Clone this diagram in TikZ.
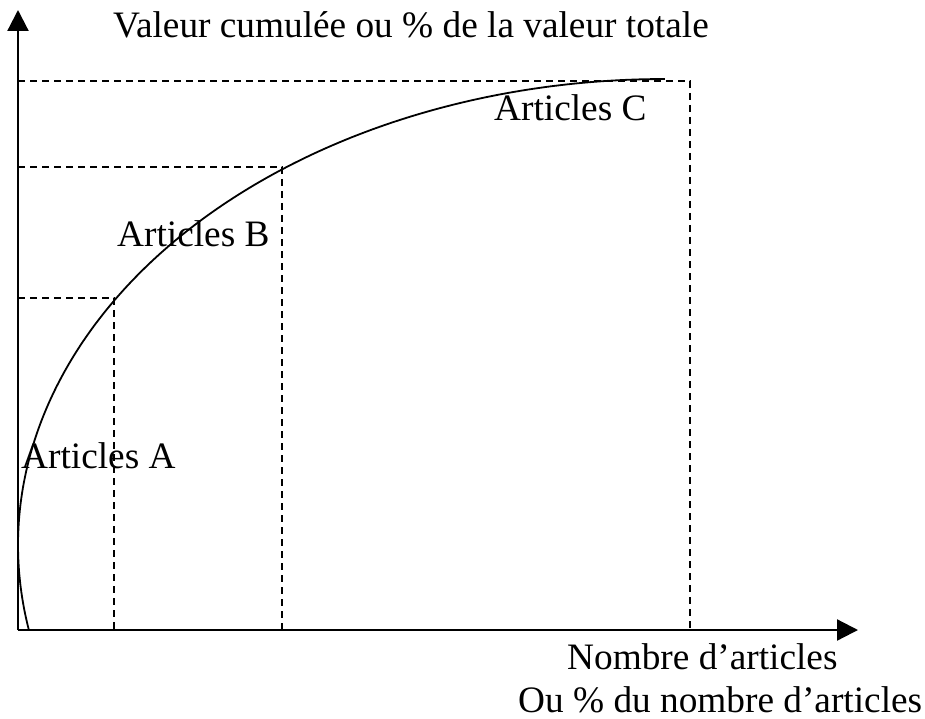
\documentclass[tikz,border=0pt]{standalone}
\usepackage{fontspec}
\setmainfont{Liberation Serif}
\usetikzlibrary{arrows.meta}
\begin{document}
\begin{tikzpicture}[x=1pt,y=-1pt,
  axis/.style={line width=2.2pt,-{Triangle[length=21pt,width=21pt]}},
  guide/.style={line width=1.7pt,dash pattern=on 7pt off 5pt},
  curve/.style={line width=1.8pt},
  lbl/.style={anchor=base west,inner sep=0pt,font=\fontsize{37.3}{46}\selectfont}]
\useasboundingbox (0,0) rectangle (925,719);
% axes
\coordinate (O) at (18,630);
\coordinate (Ytip) at (18,10);
\coordinate (Xtip) at (858,630);
\draw[axis] (O) -- (Ytip);
\draw[axis] (O) -- (Xtip);
% guide lines
\coordinate (yA) at (18,298);
\coordinate (pA) at (114,298);
\coordinate (bA) at (114,630);
\coordinate (yB) at (18,167);
\coordinate (pB) at (282,167);
\coordinate (bB) at (282,630);
\coordinate (yC) at (18,81);
\coordinate (pC) at (690,81);
\coordinate (bC) at (690,630);
\draw[guide] (yA) -- (pA) -- (bA);
\draw[guide] (yB) -- (pB) -- (bB);
\draw[guide] (yC) -- (pC) -- (bC);
% curve
\draw[curve] plot[domain=169.5:270,samples=150] ({665+647*cos(\x)},{545+466*sin(\x)});
% labels
\node[lbl] (ylab) at (113,38) {Valeur cumulée ou \% de la valeur totale};
\node[lbl] (artC) at (494,121) {Articles C};
\node[lbl] (artB) at (117,247) {Articles B};
\node[lbl] (artA) at (21,468) {Articles A};
\node[lbl] (xlab1) at (567,669) {Nombre d’articles};
\node[lbl] (xlab2) at (518,712) {Ou \% du nombre d’articles};
\end{tikzpicture}
\end{document}
